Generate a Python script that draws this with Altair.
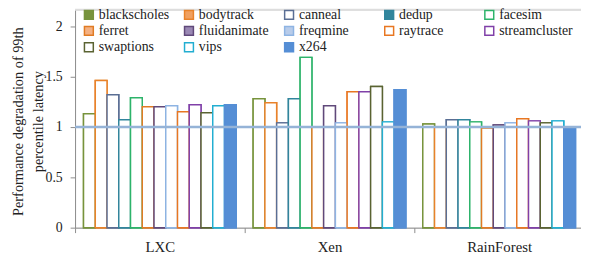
import altair as alt
import pandas as pd

groups = ["LXC", "Xen", "RainForest"]
benchmarks = ["blackscholes", "bodytrack", "canneal", "dedup", "facesim",
              "ferret", "fluidanimate", "freqmine", "raytrace", "streamcluster",
              "swaptions", "vips", "x264"]
lxc = [1.13, 1.46, 1.32, 1.07, 1.29, 1.20, 1.20, 1.21, 1.15, 1.22, 1.14, 1.21, 1.22]
xen = [1.28, 1.24, 1.04, 1.28, 1.69, 1.00, 1.21, 1.04, 1.35, 1.35, 1.40, 1.05, 1.37]
rainforest = [1.03, 1.00, 1.07, 1.07, 1.05, 0.99, 1.02, 1.04, 1.08, 1.06, 1.04, 1.06, 1.00]
baseline = [1.0]

stroke_colors = ["#77933C", "#E8822A", "#5A6E94", "#31859C", "#2DB36A",
                 "#E07B24", "#60497A", "#8EB4E3", "#E87722", "#8040A8",
                 "#5A6332", "#22AED1", "#558ED5"]
legend_fill_colors = ["#77933C", "#F0A060", "white", "#31859C", "white",
                      "#F4B183", "#9A88B4", "#B8CCEA", "white", "white",
                      "white", "white", "#558ED5"]

rows = []
for g, vals in zip(groups, [lxc, xen, rainforest]):
    for b, v in zip(benchmarks, vals):
        rows.append({"group": g, "benchmark": b, "value": v})
df = pd.DataFrame(rows)

FONT = "Liberation Serif, Times New Roman, serif"
W, H = 513, 221
YMAX = 2.163

x_scale = alt.Scale(domain=groups, range=[0, 516], paddingInner=0, paddingOuter=0)
y_scale = alt.Scale(domain=[0, YMAX], nice=False)

leg = alt.Legend(title=None, orient="none", legendX=7, legendY=-2, direction="horizontal",
                 columns=5, gridAlign="all", symbolType="square",
                 symbolSize=81, symbolStrokeWidth=1.5,
                 labelFont=FONT, labelFontSize=14, labelColor="#222",
                 labelOffset=3, columnPadding=8.5, rowPadding=0.5, padding=0)

x_enc = alt.X("group:N", scale=x_scale, sort=groups,
              axis=alt.Axis(title=None, labelAngle=0, tickBand="extent", tickSize=5,
                            labelPadding=7, labelFont=FONT, labelFontSize=15,
                            labelColor="#222", domainColor="#8c8c8c", tickColor="#8c8c8c"))
xo_enc = alt.XOffset("benchmark:N", sort=benchmarks,
                     scale=alt.Scale(domain=benchmarks, paddingInner=0, paddingOuter=0.72))
y_enc = alt.Y("value:Q", scale=y_scale,
              axis=alt.Axis(values=[0, 0.5, 1, 1.5, 2], format="~g", grid=False, tickSize=5,
                            labelPadding=8,
                            labelFont=FONT, labelFontSize=14, labelColor="#222",
                            domainColor="#8c8c8c", tickColor="#8c8c8c",
                            title=["Performance degradation of  99th", "percentile latency"],
                            titleFont=FONT, titleFontSize=14.5, titleFontWeight="normal",
                            titleColor="#222", titleLineHeight=20, titleAngle=270,
                            titleAlign="center", titleBaseline="alphabetic",
                            titleX=-53, titleY=113))
stroke_enc = alt.Stroke("benchmark:N", scale=alt.Scale(domain=benchmarks, range=stroke_colors),
                        legend=leg)

# underlying layer carries the legend fill colours (hidden beneath the outlined bars)
under = alt.Chart(df).mark_bar(strokeWidth=1.5).encode(
    x=x_enc, xOffset=xo_enc, y=y_enc, stroke=stroke_enc,
    fill=alt.Fill("benchmark:N", scale=alt.Scale(domain=benchmarks, range=legend_fill_colors),
                  legend=leg),
)

bars = alt.Chart(df).mark_bar(strokeWidth=1.5).encode(
    x=x_enc, xOffset=xo_enc, y=y_enc, stroke=stroke_enc,
    fill=alt.condition(alt.datum.benchmark == "x264", alt.value("#558ED5"), alt.value("white")),
)

ref = alt.Chart(pd.DataFrame({"y": baseline})).mark_rule(color="#95B3D7", strokeWidth=2.5).encode(
    y=alt.Y("y:Q", scale=y_scale)
)

top = alt.Chart(pd.DataFrame({"y": baseline})).mark_rule(color="#dddddd", strokeWidth=2).encode(
    y=alt.value(0), x=alt.value(0), x2=alt.value(W)
)

chart = alt.layer(under, bars, ref, top).properties(
    width=W, height=H,
    autosize=alt.AutoSizeParams(type="none"),
    padding={"left": 68, "top": 0, "right": 0, "bottom": 29},
).configure_view(stroke=None).configure(background="white")

chart.save("out.html", embed_options={"renderer": "svg", "actions": False})
